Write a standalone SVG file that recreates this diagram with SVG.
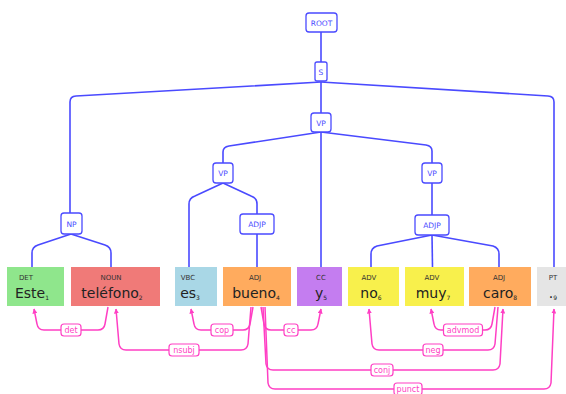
<svg xmlns="http://www.w3.org/2000/svg" width="566" height="394" viewBox="0 0 566 394">
<defs>
<style>
.c{fill:#fff;stroke:#4a4aff;stroke-width:1.3}
.ct{font-family:"DejaVu Sans",sans-serif;font-size:7.5px;fill:#4a4aff;text-anchor:middle}
.tree path{fill:none;stroke:#4a4aff;stroke-width:1.6}
.deps path{fill:none;stroke:#ff3fc4;stroke-width:1.5}
.dl{fill:#fff;stroke:#ff3fc4;stroke-width:1.2}
.dt{font-family:"DejaVu Sans",sans-serif;font-size:8px;fill:#ff3fc4;text-anchor:middle}
.pos{font-family:"DejaVu Sans",sans-serif;font-size:7px;fill:#333;text-anchor:middle}
.w{font-family:"DejaVu Sans",sans-serif;font-size:14px;fill:#222;text-anchor:middle}
.sub{font-size:6px}
</style>
<marker id="ah" viewBox="0 0 10 10" refX="9" refY="5" markerWidth="5" markerHeight="5" orient="auto" markerUnits="userSpaceOnUse">
<path d="M0,0 L10,5 L0,10 z" fill="#ff3fc4"/>
</marker>
</defs>
<rect width="566" height="394" fill="#fff"/>

<g id="connectors">
<g class="tree">
<path d="M321,32 L321,62"/>
<path d="M321,82 L76,96 Q70,96.3 70,102 L70,213"/>
<path d="M321,82 L321,113"/>
<path d="M321,82 L548,96 Q554,96.3 554,102 L554,267"/>
<path d="M321,132 L229,146 Q223,147 223,152 L223,163"/>
<path d="M321,132 L321,267"/>
<path d="M321,132 L426,145 Q432,146 432,151 L432,163"/>
<path d="M223,183 L195,196 Q189,198 189,204 L189,267"/>
<path d="M223,183 L251,196 Q257,198 257,204 L257,214"/>
<path d="M257,234 L257,267"/>
<path d="M71,234 L38,245 Q32,247 32,253 L32,267"/>
<path d="M71,234 L105,245 Q111,247 111,253 L111,267"/>
<path d="M432,183 L432,215"/>
<path d="M432,235 L377,246 Q371,248 371,254 L371,267"/>
<path d="M432,235 L432.5,267"/>
<path d="M432,235 L493,246 Q499,248 499,254 L499,267"/>
</g>
<g class="deps">
<path marker-end="url(#ah)" d="M108,307 L105,324 Q104,330 98,330 L44,330 Q38,330 37,324 L34,309"/>
<path marker-end="url(#ah)" d="M251,307 L248,344 Q247,350 241,350 L126,350 Q120,350 119,344 L116,309"/>
<path marker-end="url(#ah)" d="M253,307 L250,324 Q249,330 243,330 L201,330 Q195,330 194,324 L191,309"/>
<path marker-end="url(#ah)" d="M261,307 L264,324 Q265,330 271,330 L311,330 Q317,330 318,324 L321,309"/>
<path marker-end="url(#ah)" d="M263,307 L266,364 Q267,370 273,370 L493,370 Q499,370 500,364 L503,309"/>
<path marker-end="url(#ah)" d="M265,307 L268,383 Q269,389 275,389 L544,389 Q550,389 551,383 L554,309"/>
<path marker-end="url(#ah)" d="M495,307 L492,324 Q491,330 485,330 L441,330 Q435,330 434,324 L431,309"/>
<path marker-end="url(#ah)" d="M498,307 L495,344 Q494,350 488,350 L379,350 Q373,350 372,344 L369,309"/>
</g>
<g id="dep-labels">
<rect class="dl" x="61" y="324" width="20" height="12" rx="3"/><text class="dt" x="71" y="333">det</text>
<rect class="dl" x="169" y="344" width="30" height="12" rx="3"/><text class="dt" x="184" y="353">nsubj</text>
<rect class="dl" x="211" y="324" width="22" height="12" rx="3"/><text class="dt" x="222" y="333">cop</text>
<rect class="dl" x="284" y="324" width="14" height="12" rx="3"/><text class="dt" x="291" y="333">cc</text>
<rect class="dl" x="371" y="364" width="22" height="12" rx="3"/><text class="dt" x="382" y="373">conj</text>
<rect class="dl" x="394" y="383" width="28" height="12" rx="3"/><text class="dt" x="408" y="392">punct</text>
<rect class="dl" x="443.5" y="324" width="39" height="12" rx="3"/><text class="dt" x="463" y="333">advmod</text>
<rect class="dl" x="423" y="344" width="20" height="12" rx="3"/><text class="dt" x="433" y="353">neg</text>
</g>
</g>

<g id="ROOT"><rect class="c" x="306" y="13" width="31" height="19" rx="3"/><text class="ct" x="321.5" y="25.5">ROOT</text></g>
<g id="S"><rect class="c" x="315" y="62" width="12" height="19" rx="2"/><text class="ct" x="321" y="74.5">S</text></g>
<g id="VP1"><rect class="c" x="311" y="113" width="20" height="19" rx="3"/><text class="ct" x="321" y="125.5">VP</text></g>
<g id="VP2"><rect class="c" x="213" y="163" width="20" height="20" rx="3"/><text class="ct" x="223" y="176">VP</text></g>
<g id="VP3"><rect class="c" x="422" y="163" width="20" height="20" rx="3"/><text class="ct" x="432" y="176">VP</text></g>
<g id="NP"><rect class="c" x="61" y="213" width="21" height="21" rx="3"/><text class="ct" x="71.5" y="226.5">NP</text></g>
<g id="ADJP1"><rect class="c" x="240" y="214" width="34" height="20" rx="3"/><text class="ct" x="257" y="227">ADJP</text></g>
<g id="ADJP2"><rect class="c" x="415" y="215" width="34" height="20" rx="3"/><text class="ct" x="432" y="228">ADJP</text></g>

<g id="w1"><rect x="7" y="267" width="57" height="39" fill="#8fe68c"/><text class="pos" x="26" y="280">DET</text><text class="w" x="32" y="298">Este<tspan class="sub" dy="2">1</tspan></text></g>
<g id="w2"><rect x="71" y="267" width="89" height="39" fill="#f07a78"/><text class="pos" x="111" y="280">NOUN</text><text class="w" x="112" y="298">teléfono<tspan class="sub" dy="2">2</tspan></text></g>
<g id="w3"><rect x="175" y="267" width="42" height="39" fill="#a9d7e6"/><text class="pos" x="188" y="280">VBC</text><text class="w" x="190" y="298">es<tspan class="sub" dy="2">3</tspan></text></g>
<g id="w4"><rect x="223" y="267" width="68" height="39" fill="#ffab5e"/><text class="pos" x="255" y="280">ADJ</text><text class="w" x="256" y="298">bueno<tspan class="sub" dy="2">4</tspan></text></g>
<g id="w5"><rect x="297" y="267" width="45" height="39" fill="#c47df0"/><text class="pos" x="321" y="280">CC</text><text class="w" x="321" y="298">y<tspan class="sub" dy="2">5</tspan></text></g>
<g id="w6"><rect x="348" y="267" width="51" height="39" fill="#f8f04c"/><text class="pos" x="369" y="280">ADV</text><text class="w" x="371" y="298">no<tspan class="sub" dy="2">6</tspan></text></g>
<g id="w7"><rect x="405" y="267" width="59" height="39" fill="#f8f04c"/><text class="pos" x="432" y="280">ADV</text><text class="w" x="433" y="298">muy<tspan class="sub" dy="2">7</tspan></text></g>
<g id="w8"><rect x="469" y="267" width="62" height="39" fill="#ffab5e"/><text class="pos" x="499" y="280">ADJ</text><text class="w" x="500" y="298">caro<tspan class="sub" dy="2">8</tspan></text></g>
<g id="w9"><rect x="537" y="267" width="34" height="39" fill="#e5e5e5"/><text class="pos" x="553" y="280">PT</text><text class="w" x="553" y="298">.<tspan class="sub" dy="2">9</tspan></text></g>
</svg>
